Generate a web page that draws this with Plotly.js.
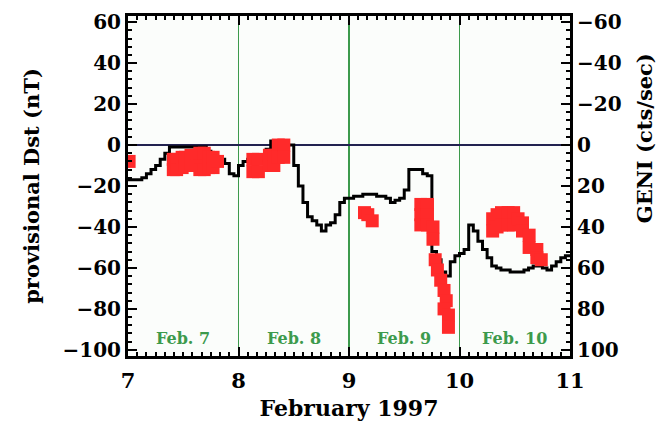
<!DOCTYPE html>
<html>
<head>
<meta charset="utf-8">
<script src="https://cdn.plot.ly/plotly-3.0.1.min.js"></script>
<style>html,body{margin:0;padding:0;background:#fff;}#chart{width:669px;height:421px;}</style>
</head>
<body>
<div id="chart"></div>
<script>
// Provisional Dst, hourly values from Feb 7 00h to Feb 11 00h (nT)
var dstStart = 7;
var dstValues = [
  -17,-17,-17,-16,-14,-12,-10,-7,-4,-1,-1,-1,-1,-1,-1,-1,-1,-3,-5,-6,-7,-9,-14,-15,
  -10,-8,-7,-6,-5,-5,-2,2,-1,-5,0,0,-10,-20,-28,-35,-37,-39,-42,-39,-38,-34,-28,-26,
  -26,-25,-25,-24,-24,-24,-25,-25,-26,-28,-27,-26,-22,-12,-12,-12,-14,-15,-52,-56,-62,-64,-57,-54,
  -53,-51,-39,-42,-47,-51,-55,-59,-60,-61,-61,-62,-62,-62,-61,-60,-59,-59,-60,-61,-59,-57,-55,-54,
  -54
];
// GENI count rate samples (day of February, cts/sec)
var geniTime = [7.01,
  7.41,7.41,7.44,7.44,7.49,7.49,7.52,7.52,7.57,7.57,7.62,7.62,7.65,7.65,7.69,7.69,7.73,7.73,7.77,7.77,7.81,
  8.13,8.13,8.18,8.18,8.28,8.28,8.32,8.32,8.36,8.36,8.41,8.41,
  9.14,9.17,9.21,
  9.65,9.65,9.65,9.71,9.71,9.71,9.76,9.76,
  9.78,9.80,9.83,9.86,9.88,9.86,9.90,9.90,
  10.30,10.30,10.34,10.34,10.38,10.38,10.44,10.44,10.49,10.49,10.53,10.57,10.57,10.63,10.63,10.70,10.70,10.74];
var geniRate = [8,
  7,12,7,12,6,11,6,10,5,10,5,10,4,12,4,12,6,11,6,11,8,
  7,13,7,13,5,10,5,10,0,6,0,6,
  33,34,37,
  29,34,39,29,34,39,40,46,
  56,61,66,71,76,80,83,89,
  36,42,34,40,33,39,33,39,33,39,36,38,42,44,50,51,55,56];
var dayTicks = [7,8,9,10,11];
var dayLabels = ['Feb. 7','Feb. 8','Feb. 9','Feb. 10'];
var dayLabelPos = [7.5,8.5,9.5,10.5];
var dstTicks = [-100,-80,-60,-40,-20,0,20,40,60];
var geniTicks = [-60,-40,-20,0,20,40,60,80,100];

var dstTime = dstValues.map(function(v,i){return dstStart + i/24;});

var fontFam = '"DejaVu Serif", "Liberation Serif", serif';
var green = '#3c9a4c';
function fmt(v){return v<0?'\u2212'+(-v):String(v);}

var traces = [
  {x: geniTime, y: geniRate, yaxis: 'y2', type: 'scatter', mode: 'markers', name: 'GENI',
   marker: {symbol: 'square', size: 13, color: '#ff2a2a', line: {width: 0}}},
  {x: dstTime, y: dstValues, type: 'scatter', mode: 'lines', name: 'Dst',
   line: {color: '#000000', width: 3, shape: 'hv'}}
];

var annotations = dayLabels.map(function(t,i){
  return {x: dayLabelPos[i], y: -94.5, xref: 'x', yref: 'y', text: t, showarrow: false,
    font: {family: fontFam, size: 16, color: green, weight: 700}};
});
annotations.push({x: 1.2, y: 0.64, xref: 'paper', yref: 'paper', text: 'GENI (cts/sec)',
  textangle: -90, showarrow: false, font: {family: fontFam, size: 21, color: '#000', weight: 700}});

var layout = {
  width: 669, height: 421,
  margin: {l: 128, r: 99, t: 16, b: 65},
  paper_bgcolor: '#ffffff', plot_bgcolor: '#fbfdfb',
  showlegend: false,
  font: {family: fontFam, color: '#000'},
  xaxis: {range: [7, 11], tickvals: dayTicks, ticktext: dayTicks.map(String),
    showgrid: true, gridcolor: green, gridwidth: 1.6, zeroline: false,
    showline: true, linecolor: '#000', linewidth: 3, mirror: 'ticks',
    ticks: 'inside', ticklen: 9, tickwidth: 2, tickcolor: '#000',
    minor: {dtick: 1/12, tick0: 7, ticks: 'inside', ticklen: 4, tickwidth: 2, tickcolor: '#000', showgrid: false},
    tickfont: {family: fontFam, size: 21, weight: 700}, ticklabelstandoff: 4,
    title: {text: 'February 1997', font: {family: fontFam, size: 22, weight: 700}, standoff: 9}},
  yaxis: {range: [-103, 63], tickvals: dstTicks, ticktext: dstTicks.map(fmt),
    showgrid: false, zeroline: true, zerolinecolor: '#222250', zerolinewidth: 2,
    showline: true, linecolor: '#000', linewidth: 3,
    ticks: 'inside', ticklen: 9, tickwidth: 2, tickcolor: '#000',
    minor: {dtick: 4, ticks: 'inside', ticklen: 4, tickwidth: 2, tickcolor: '#000', showgrid: false},
    tickfont: {family: fontFam, size: 20, weight: 700},
    title: {text: 'provisional Dst (nT)', font: {family: fontFam, size: 21, weight: 700}, standoff: 18}},
  yaxis2: {overlaying: 'y', side: 'right', range: [103, -63], tickvals: geniTicks,
    ticktext: geniTicks.map(fmt),
    showgrid: false, zeroline: false,
    showline: true, linecolor: '#000', linewidth: 3,
    ticks: 'inside', ticklen: 9, tickwidth: 2, tickcolor: '#000',
    minor: {dtick: 4, ticks: 'inside', ticklen: 4, tickwidth: 2, tickcolor: '#000', showgrid: false},
    tickfont: {family: fontFam, size: 20, weight: 700}},
  annotations: annotations
};

Plotly.newPlot('chart', traces, layout, {displayModeBar: false, staticPlot: true});
</script>
</body>
</html>
